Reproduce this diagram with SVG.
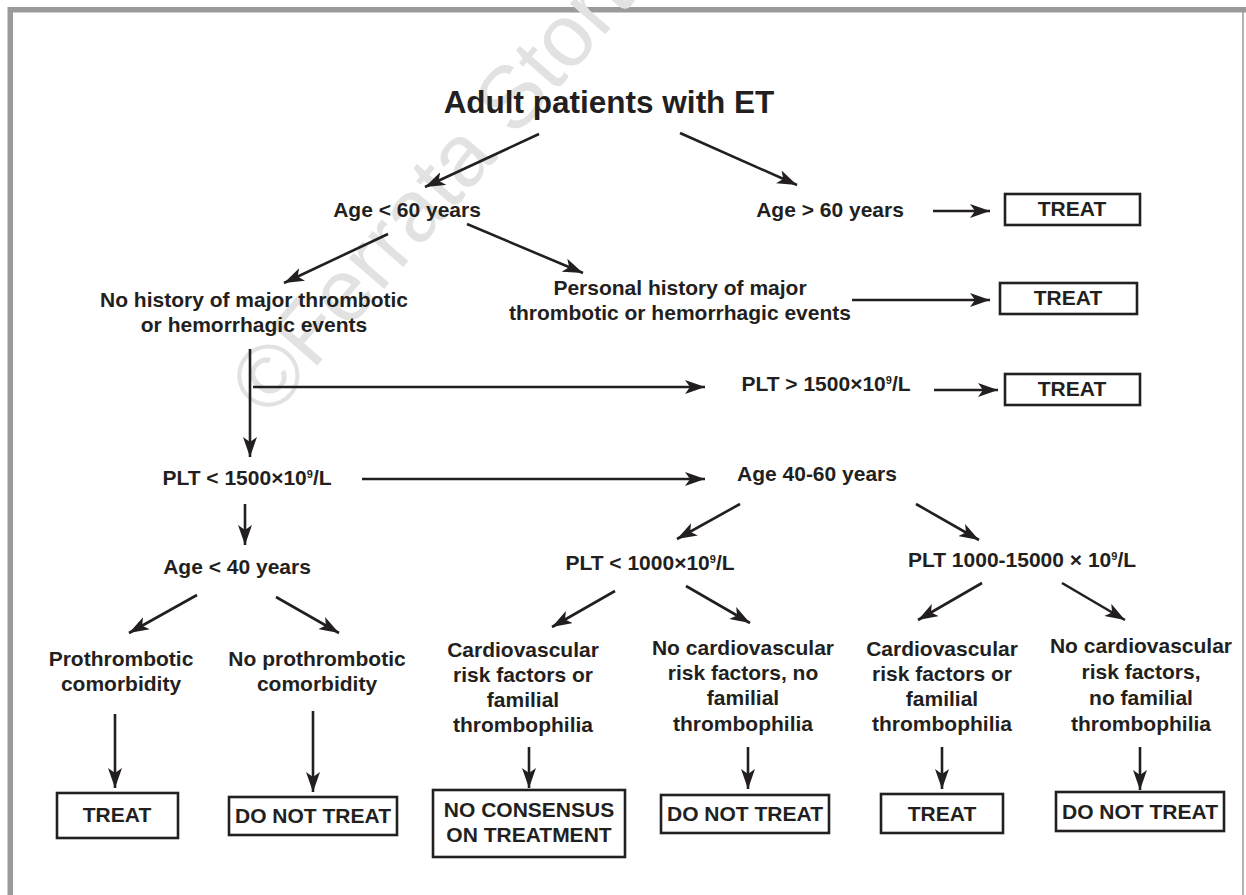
<svg xmlns="http://www.w3.org/2000/svg" width="1246" height="895" viewBox="0 0 1246 895">
<defs>
<style>
.t{font-family:"Liberation Sans",Arial,Helvetica,sans-serif;font-weight:bold;font-size:21px;fill:#231f20;text-anchor:middle}
.title{font-size:31.5px}
.sup{font-size:11px}
.box{fill:#fff;stroke:#231f20;stroke-width:2.6}
.c{fill:none;stroke:#231f20;stroke-width:2.6;marker-end:url(#ah)}
.wm{font-family:"Liberation Sans",Arial,sans-serif;font-size:88px;fill:#e2e2e2}
</style>
<marker id="ah" viewBox="0 0 20 14" refX="20" refY="7" markerWidth="20" markerHeight="14" markerUnits="userSpaceOnUse" orient="auto">
<path d="M0,0 L20,7 L0,14 L5,7 Z" fill="#231f20"/>
</marker>
</defs>
<rect x="0" y="0" width="1246" height="895" fill="#fff"/>
<g id="frame">
<rect x="8" y="7" width="1238" height="5.5" fill="#9a9a9a"/>
<rect x="7.5" y="7" width="5.5" height="888" fill="#9a9a9a"/>
<line x1="1243" y1="7" x2="1243" y2="895" stroke="#9a9a9a" stroke-width="1.5"/>
</g>
<text class="wm" transform="translate(270,420) rotate(-49)">©Ferrata Storti</text>

<g id="connectors">
<line class="c" x1="539" y1="134" x2="425" y2="187"/>
<line class="c" x1="680" y1="133" x2="797" y2="185"/>
<line class="c" x1="933" y1="211" x2="990" y2="211"/>
<line class="c" x1="388" y1="234" x2="284" y2="283"/>
<line class="c" x1="467" y1="224" x2="583" y2="273"/>
<line class="c" x1="852" y1="300" x2="990" y2="300"/>
<line class="c" x1="250" y1="349" x2="250" y2="457"/>
<line class="c" x1="253" y1="387" x2="705" y2="387"/>
<line class="c" x1="934" y1="390" x2="998" y2="390"/>
<line class="c" x1="362" y1="479" x2="705" y2="479"/>
<line class="c" x1="245" y1="504" x2="245" y2="545"/>
<line class="c" x1="197" y1="595" x2="129" y2="633"/>
<line class="c" x1="276" y1="597" x2="339" y2="633"/>
<line class="c" x1="740" y1="504" x2="677" y2="539"/>
<line class="c" x1="916" y1="504" x2="979" y2="540"/>
<line class="c" x1="615" y1="591" x2="552" y2="627"/>
<line class="c" x1="686" y1="586" x2="750" y2="623"/>
<line class="c" x1="982" y1="583" x2="918" y2="620"/>
<line class="c" x1="1062" y1="583" x2="1125" y2="620"/>
<line class="c" x1="115" y1="714" x2="115" y2="788"/>
<line class="c" x1="313" y1="711" x2="313" y2="792"/>
<line class="c" x1="529" y1="747" x2="529" y2="788"/>
<line class="c" x1="748" y1="747" x2="748" y2="789"/>
<line class="c" x1="942" y1="747" x2="942" y2="789"/>
<line class="c" x1="1140" y1="747" x2="1140" y2="790"/>
</g>

<g id="n-title"><text class="t title" x="609" y="113">Adult patients with ET</text></g>
<g id="n-age-lt60"><text class="t" x="407" y="217">Age &lt; 60 years</text></g>
<g id="n-age-gt60"><text class="t" x="830" y="217">Age &gt; 60 years</text></g>
<g id="n-treat1"><rect class="box" x="1005" y="194" width="135" height="31"/><text class="t" x="1072" y="216">TREAT</text></g>
<g id="n-nohistory"><text class="t" x="254" y="307">No history of major thrombotic</text><text class="t" x="254" y="332">or hemorrhagic events</text></g>
<g id="n-history"><text class="t" x="680" y="295">Personal history of major</text><text class="t" x="680" y="320">thrombotic or hemorrhagic events</text></g>
<g id="n-treat2"><rect class="box" x="1000" y="283" width="137" height="31"/><text class="t" x="1068" y="305">TREAT</text></g>
<g id="n-plt-gt1500"><text class="t" x="826" y="391">PLT &gt; 1500×10<tspan class="sup" dy="-7">9</tspan><tspan dy="7">/L</tspan></text></g>
<g id="n-treat3"><rect class="box" x="1005" y="374" width="135" height="31"/><text class="t" x="1072" y="396">TREAT</text></g>
<g id="n-plt-lt1500"><text class="t" x="247" y="485">PLT &lt; 1500×10<tspan class="sup" dy="-7">9</tspan><tspan dy="7">/L</tspan></text></g>
<g id="n-age4060"><text class="t" x="817" y="481">Age 40-60 years</text></g>
<g id="n-age-lt40"><text class="t" x="237" y="574">Age &lt; 40 years</text></g>
<g id="n-plt-lt1000"><text class="t" x="650" y="570">PLT &lt; 1000×10<tspan class="sup" dy="-7">9</tspan><tspan dy="7">/L</tspan></text></g>
<g id="n-plt-1000-15000"><text class="t" x="1022" y="567">PLT 1000-15000 × 10<tspan class="sup" dy="-7">9</tspan><tspan dy="7">/L</tspan></text></g>
<g id="n-prothrombotic"><text class="t" x="121" y="666">Prothrombotic</text><text class="t" x="121" y="691">comorbidity</text></g>
<g id="n-noprothrombotic"><text class="t" x="317" y="666">No prothrombotic</text><text class="t" x="317" y="691">comorbidity</text></g>
<g id="n-cv1"><text class="t" x="523" y="657">Cardiovascular</text><text class="t" x="523" y="682">risk factors or</text><text class="t" x="523" y="707">familial</text><text class="t" x="523" y="732">thrombophilia</text></g>
<g id="n-nocv1"><text class="t" x="743" y="655">No cardiovascular</text><text class="t" x="743" y="680">risk factors, no</text><text class="t" x="743" y="705">familial</text><text class="t" x="743" y="731">thrombophilia</text></g>
<g id="n-cv2"><text class="t" x="942" y="656">Cardiovascular</text><text class="t" x="942" y="681">risk factors or</text><text class="t" x="942" y="706">familial</text><text class="t" x="942" y="731">thrombophilia</text></g>
<g id="n-nocv2"><text class="t" x="1141" y="653">No cardiovascular</text><text class="t" x="1141" y="679">risk factors,</text><text class="t" x="1141" y="705">no familial</text><text class="t" x="1141" y="731">thrombophilia</text></g>
<g id="n-treat4"><rect class="box" x="57" y="793" width="121" height="45"/><text class="t" x="117" y="822">TREAT</text></g>
<g id="n-donot1"><rect class="box" x="229" y="797" width="168" height="38"/><text class="t" x="313" y="823">DO NOT TREAT</text></g>
<g id="n-noconsensus"><rect class="box" x="433" y="790" width="192" height="67"/><text class="t" x="529" y="817">NO CONSENSUS</text><text class="t" x="529" y="842">ON TREATMENT</text></g>
<g id="n-donot2"><rect class="box" x="661" y="795" width="168" height="38"/><text class="t" x="745" y="821">DO NOT TREAT</text></g>
<g id="n-treat5"><rect class="box" x="881" y="794" width="122" height="39"/><text class="t" x="942" y="821">TREAT</text></g>
<g id="n-donot3"><rect class="box" x="1056" y="792" width="168" height="39"/><text class="t" x="1140" y="819">DO NOT TREAT</text></g>
</svg>
